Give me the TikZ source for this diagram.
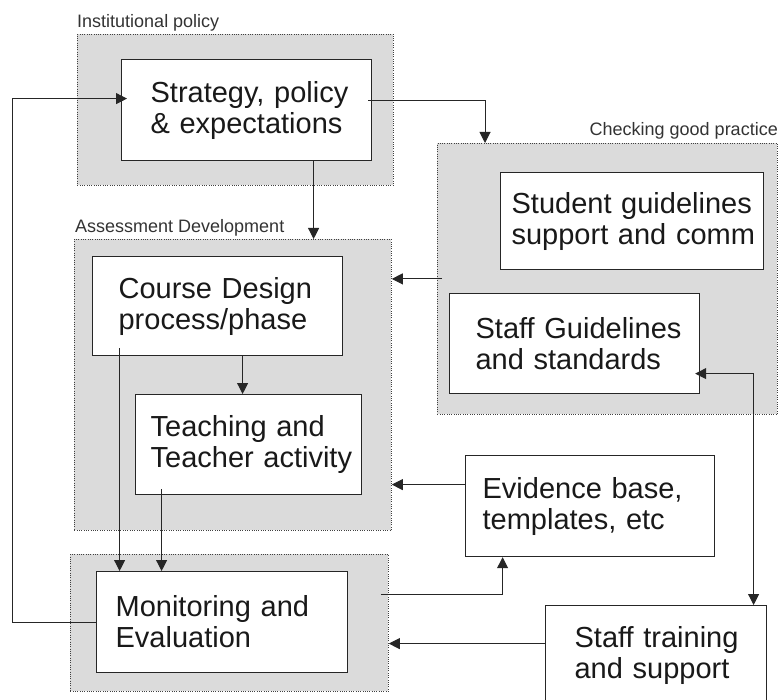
\documentclass[tikz,border=0pt]{standalone}
\usepackage{fontspec}
\setmainfont{Liberation Sans}
\usetikzlibrary{arrows.meta}
\begin{document}
\begin{tikzpicture}[x=1pt,y=-1pt,
    grp/.style={draw=black!75,line width=0.8pt,dash pattern=on 1pt off 1.3pt,fill=black!14,anchor=north west,inner sep=0pt},
    grplbl/.style={text=black!80,font=\fontsize{18}{20}\selectfont,inner sep=0pt},
    box/.style={draw=black!85,line width=1.2pt,fill=white,anchor=north west,inner xsep=0pt,inner ysep=0pt,
        align=left,text=black!90,font=\fontsize{29}{31}\selectfont},
    textin/.style={execute at begin node={\leftskip=#1pt}},
    conn/.style={draw=black!85,line width=1pt,-{Triangle[length=11pt,width=11pt]}}]
    \useasboundingbox (0,0) rectangle (781,700);

    \node[grp,minimum width=316,minimum height=151] (instg) at (77,34) {};
    \node[grp,minimum width=340,minimum height=271] (checkg) at (437,143) {};
    \node[grp,minimum width=317,minimum height=291] (assessg) at (74,239) {};
    \node[grp,minimum width=318,minimum height=137] (monitg) at (70,554) {};

    \node[grplbl,anchor=base west] (instlbl) at (77,28) {Institutional policy};
    \node[grplbl,anchor=base east] (checklbl) at (778,136) {Checking good practice};
    \node[grplbl,anchor=base west] (assesslbl) at (75,233) {Assessment Development};

    \node[box,text width=250,minimum height=101,textin=29] (strat) at (121,59) {Strategy, policy\\\& expectations};
    \node[box,text width=263,minimum height=97,textin=11] (student) at (500,172) {Student guidelines\\support and comm};
    \node[box,text width=250,minimum height=100,textin=26] (staffg) at (449,293) {Staff Guidelines\\and standards};
    \node[box,text width=250,minimum height=99,textin=26] (course) at (92,256) {Course Design\\process/phase};
    \node[box,text width=226,minimum height=100,textin=15] (teach) at (135,394) {Teaching and\\Teacher activity};
    \node[box,text width=249,minimum height=101,textin=17] (evid) at (465,455) {Evidence base,\\templates, etc};
    \node[box,text width=251,minimum height=101,textin=19] (monit) at (96,571) {Monitoring and\\Evaluation};
    \node[box,text width=221,minimum height=100,textin=29] (train) at (545,605) {Staff training\\and support};

    \coordinate (loopx) at (12,0);
    \coordinate (stratin) at ([xshift=6pt,yshift=11.5pt]strat.west);
    \draw[conn] (monit.west) -- (loopx |- monit.west) -- (loopx |- stratin) -- (stratin);
    \draw[conn] ([xshift=-4pt,yshift=10pt]strat.east) -| ([xshift=48pt]checkg.north west);
    \draw[conn] ([xshift=67pt]strat.south) -- ([xshift=67pt]strat.south |- assessg.north);
    \draw[conn] ([xshift=5pt]checkg.west) -- (checkg.west -| assessg.east);
    \draw[conn] ([xshift=25pt]course.south) -- ([xshift=25pt]course.south |- teach.north);
    \draw[conn] ([xshift=-98pt,yshift=8pt]course.south) -- ([xshift=-98pt]course.south |- monit.north);
    \draw[conn] ([xshift=-87pt,yshift=6pt]teach.south) -- ([xshift=-87pt]teach.south |- monit.north);
    \draw[conn] ([yshift=21.5pt]evid.west) -- ([yshift=21.5pt]evid.west -| assessg.east);
    \draw[conn] ([xshift=-8pt,yshift=28.5pt]monitg.east) -| ([xshift=-87.5pt]evid.south);
    \draw[conn] ([yshift=12pt]train.west) -- ([yshift=12pt]train.west -| monitg.east);
    \draw[conn,{Triangle[length=11pt,width=11pt]}-{Triangle[length=11pt,width=11pt]}] ([xshift=-5pt,yshift=-30pt]staffg.east) -| ([xshift=97.5pt]train.north);
\end{tikzpicture}
\end{document}
